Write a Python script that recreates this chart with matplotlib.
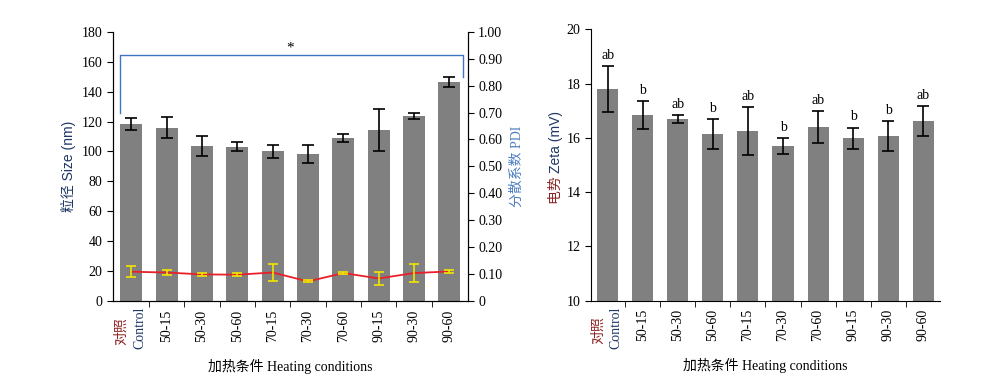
import numpy as np
import matplotlib as mpl
mpl.use('Agg')
import matplotlib.pyplot as plt

plt.rcParams['font.family'] = ['Liberation Serif', 'Noto Sans CJK SC']
plt.rcParams['font.size'] = 10

# Data
groups = ['Control', '50-15', '50-30', '50-60', '70-15', '70-30', '70-60', '90-15', '90-30', '90-60']
size_mean = [118.5, 116.0, 103.5, 103.2, 100.0, 98.0, 108.7, 114.5, 124.0, 146.5]
size_err = [4.0, 7.0, 6.7, 3.2, 4.6, 6.0, 2.7, 14.0, 2.0, 3.3]
pdi_mean = [0.109, 0.106, 0.099, 0.098, 0.106, 0.073, 0.104, 0.084, 0.104, 0.110]
pdi_err = [0.020, 0.008, 0.005, 0.006, 0.031, 0.004, 0.003, 0.023, 0.035, 0.007]
zeta_mean = [17.80, 16.83, 16.69, 16.14, 16.25, 15.70, 16.40, 15.99, 16.06, 16.62]
zeta_err = [0.86, 0.52, 0.16, 0.55, 0.90, 0.30, 0.59, 0.39, 0.55, 0.56]
zeta_letters = ['ab', 'b', 'ab', 'b', 'ab', 'b', 'ab', 'b', 'b', 'ab']

navy = '#1f3864'
darkred = '#8b2323'
bar_color = '#808080'
sans = ['Liberation Sans', 'Noto Sans CJK SC']
x = np.arange(len(groups))

fig = plt.figure(figsize=(9.88, 3.85), dpi=100)
ax1 = fig.add_axes([0.1144, 0.218, 0.359, 0.6995])
ax2 = ax1.twinx()
ax3 = fig.add_axes([0.598, 0.219, 0.3535, 0.705])


def style_x(ax, xmin, xmax):
    ax.set_xlim(xmin, xmax)
    ax.set_xticks(x)
    ax.set_xticklabels([''] + groups[1:], rotation=90, va='top')
    ax.tick_params(axis='x', which='major', length=0, pad=6)
    ax.set_xticks(x[:-1] + 0.5, minor=True)
    ax.tick_params(axis='x', which='minor', length=4, direction='out')
    # two-colour control label
    ax.text(-0.27, -0.11, '对照', transform=ax.get_xaxis_transform(), rotation=90,
            ha='center', va='center', color=darkred, fontsize=10)
    ax.text(0.23, -0.10, 'Control', transform=ax.get_xaxis_transform(), rotation=90,
            ha='center', va='center', color=navy, fontsize=10)
    ax.set_xlabel('加热条件 Heating conditions', fontsize=10, labelpad=12)


# Left chart: particle size bars + PDI line
ax1.bar(x, size_mean, width=0.62, color=bar_color, zorder=1)
ax1.errorbar(x, size_mean, yerr=size_err, fmt='none', ecolor='black',
             elinewidth=1.2, capsize=4, capthick=1.2, zorder=2)
ax1.set_ylim(0, 180)
ax1.set_yticks(np.arange(0, 181, 20))
ax1.tick_params(axis='y', direction='out', length=4)
ax1.set_ylabel('粒径 Size (nm)', color=navy, labelpad=4, family=sans)
ax1.spines['top'].set_visible(False)
style_x(ax1, -0.52, 9.52)

ax2.plot(x, pdi_mean, color='#e8202a', lw=1.3, zorder=3)
ax2.errorbar(x, pdi_mean, yerr=pdi_err, fmt='none', ecolor='#f2e600',
             elinewidth=1.2, capsize=3.5, capthick=1.2, zorder=4)
ax2.set_ylim(0, 1.0)
ax2.set_yticks(np.arange(0, 1.01, 0.1))
ax2.set_yticklabels(['0'] + ['%.2f' % v for v in np.arange(0.1, 1.01, 0.1)])
ax2.tick_params(axis='y', direction='out', length=4)
ax2.set_ylabel('分散系数 PDI', color='#4f7fc0', labelpad=6)
ax2.spines['top'].set_visible(False)

# significance bracket
bcol = '#3f74c4'
ax1.plot([-0.31, -0.31, 9.38, 9.38], [125.8, 164.7, 164.7, 150.0], color=bcol, lw=1.0,
         clip_on=False, zorder=5)
ax1.text(4.5, 164.7, '*', ha='center', va='bottom', fontsize=11)

# Right chart: zeta potential
ax3.bar(x, zeta_mean, width=0.6, color=bar_color, zorder=1)
ax3.errorbar(x, zeta_mean, yerr=zeta_err, fmt='none', ecolor='black',
             elinewidth=1.2, capsize=4, capthick=1.2, zorder=2)
for xi, m, e, lab in zip(x, zeta_mean, zeta_err, zeta_letters):
    ax3.text(xi, m + e + 0.15, lab, ha='center', va='bottom', fontsize=10)
ax3.set_ylim(10, 20)
ax3.set_yticks(np.arange(10, 21, 2))
ax3.tick_params(axis='y', direction='out', length=4)
ax3.spines['top'].set_visible(False)
ax3.spines['right'].set_visible(False)
ax3.text(-0.1, 0.47, 'Zeta (mV)', transform=ax3.transAxes, rotation=90,
         ha='center', va='bottom', color=navy, family=sans)
ax3.text(-0.1, 0.47, '电势 ', transform=ax3.transAxes, rotation=90,
         ha='center', va='top', color=darkred)
style_x(ax3, -0.48, 9.48)

fig.savefig('out.png', dpi=100)
